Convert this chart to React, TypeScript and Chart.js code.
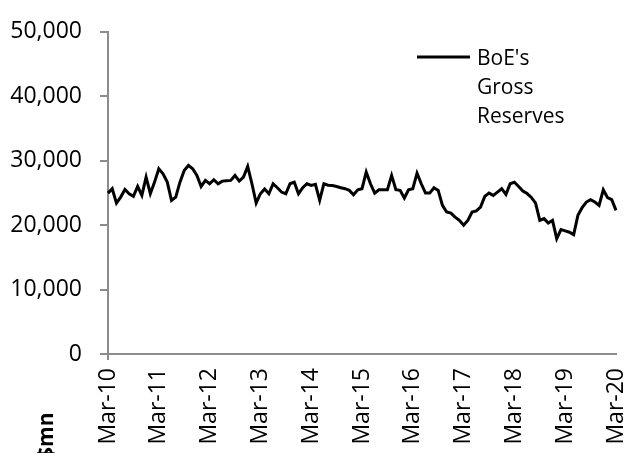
import { useEffect, useRef } from "react";
import { Chart, registerables } from "chart.js";

Chart.register(...registerables);

const MONTH_NAMES = ["Jan", "Feb", "Mar", "Apr", "May", "Jun", "Jul", "Aug", "Sep", "Oct", "Nov", "Dec"];

// Monthly categories Mar-10 .. Mar-20
const categories: string[] = [];
for (let i = 0; i <= 120; i++) {
  const m = (2 + i) % 12;
  const y = 10 + Math.floor((2 + i) / 12);
  categories.push(`${MONTH_NAMES[m]}-${String(y).padStart(2, "0")}`);
}

const tickLabels = ["Mar-10", "Mar-11", "Mar-12", "Mar-13", "Mar-14", "Mar-15", "Mar-16", "Mar-17", "Mar-18", "Mar-19", "Mar-20"];

const seriesName = ["BoE's", "Gross", "Reserves"];
const unitLabel = "$mn";

const grossReserves = [
  24970, 25650, 23420, 24350, 25540, 24870, 24460, 26000, 24610, 27450,
  24870, 26670, 28740, 27970, 26670, 23840, 24350, 26670, 28480, 29260,
  28740, 27710, 26000, 26940, 26420, 27040, 26420, 26830, 26900, 26940,
  27710, 26830, 27450, 29100, 26420, 23420, 24870, 25600, 24870, 26420,
  25800, 25130, 24870, 26420, 26670, 24870, 25800, 26420, 26160, 26320,
  23840, 26420, 26200, 26160, 26000, 25800, 25650, 25390, 24720, 25490,
  25650, 28220, 26420, 24970, 25490, 25490, 25490, 27710, 25490, 25390,
  24200, 25490, 25650, 28070, 26420, 24970, 24970, 25800, 25390, 23070,
  22030, 21870, 21250, 20740, 19970, 20740, 22030, 22200, 22800, 24460,
  24970, 24610, 25130, 25650, 24770, 26420, 26670, 26000, 25300, 24900,
  24300, 23420, 20740, 21010, 20330, 20740, 17910, 19300, 19100, 18900,
  18530, 21520, 22710, 23580, 23950, 23580, 23070, 25490, 24260, 23950,
  22290,
];

const FONT = '"Open Sans", sans-serif';
const AXIS_GREY = "#8c8c8c";

const overlayPlugin = {
  id: "overlay",
  afterDraw(chart: any) {
    const ctx = chart.ctx as CanvasRenderingContext2D;
    ctx.save();
    // legend
    ctx.strokeStyle = "#000";
    ctx.lineWidth = 3;
    ctx.beginPath();
    ctx.moveTo(417, 57);
    ctx.lineTo(470, 57);
    ctx.stroke();
    ctx.fillStyle = "#000";
    ctx.font = `21px ${FONT}`;
    ctx.textAlign = "left";
    ctx.textBaseline = "alphabetic";
    seriesName.forEach((t, i) => ctx.fillText(t, 477, 65 + i * 29));
    // unit label
    ctx.translate(53, 459);
    ctx.rotate(-Math.PI / 2);
    ctx.font = `bold 21px ${FONT}`;
    ctx.fillText(unitLabel, 0, 0);
    ctx.restore();
  },
};

export default function App() {
  const ref = useRef<HTMLCanvasElement>(null);
  useEffect(() => {
    document.body.style.margin = "0";
    document.body.style.overflow = "hidden";
    const chart = new Chart(ref.current!, {
      type: "line",
      data: {
        labels: categories,
        datasets: [
          {
            label: seriesName.join(" "),
            data: grossReserves,
            borderColor: "#000",
            backgroundColor: "#000",
            borderWidth: 3,
            pointRadius: 0,
            tension: 0,
          },
        ],
      },
      options: {
        responsive: false,
        animation: false,
        layout: { padding: { top: 31, left: 0, right: 0, bottom: 0 } },
        plugins: { legend: { display: false }, tooltip: { enabled: false } },
        scales: {
          x: {
            type: "category",
            offset: false,
            grid: {
              display: true,
              drawOnChartArea: false,
              drawTicks: true,
              tickLength: 6,
              lineWidth: 2,
              color: (c: any) => (c.index % 12 === 0 ? AXIS_GREY : "rgba(0,0,0,0)"),
            },
            border: { display: true, color: AXIS_GREY, width: 2 },
            ticks: {
              autoSkip: false,
              minRotation: 90,
              maxRotation: 90,
              padding: 8,
              color: "#000",
              font: { family: FONT, size: 23 },
              callback: (_v: any, i: number) => (i % 12 === 0 ? tickLabels[i / 12] : null),
            },
            afterFit: (s: any) => {
              s.height = 99;
              s.paddingRight = 8;
            },
          },
          y: {
            min: 0,
            max: 50000,
            grid: {
              display: true,
              drawOnChartArea: false,
              drawTicks: true,
              tickLength: 8,
              lineWidth: 2,
              color: AXIS_GREY,
            },
            border: { display: true, color: AXIS_GREY, width: 2 },
            ticks: {
              stepSize: 10000,
              padding: 18,
              color: "#000",
              font: { family: FONT, size: 23 },
              callback: (v: any) => Number(v).toLocaleString("en-US"),
            },
            afterFit: (s: any) => {
              s.width = 108;
            },
          },
        },
      },
      plugins: [overlayPlugin],
    });
    return () => chart.destroy();
  }, []);
  return (
    <div style={{ width: 624, height: 453 }}>
      <canvas ref={ref} width={624} height={453} />
    </div>
  );
}
